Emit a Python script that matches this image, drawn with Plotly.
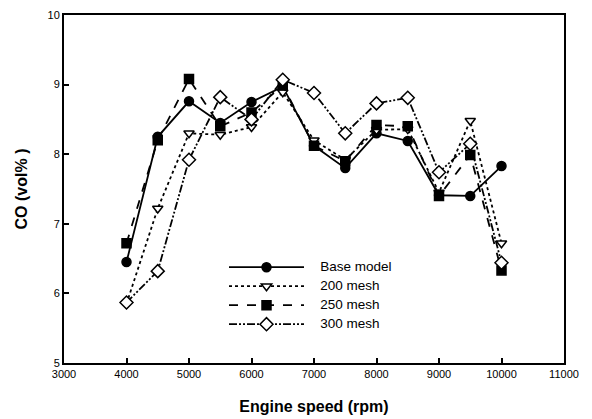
import plotly.graph_objects as go

speed = [4000, 4500, 5000, 5500, 6000, 6500, 7000, 7500, 8000, 8500, 9000, 9500, 10000]
base_model = [6.45, 8.25, 8.76, 8.45, 8.75, 8.97, 8.12, 7.8, 8.3, 8.19, 7.41, 7.4, 7.83]
mesh_200 = [5.85, 7.22, 8.3, 8.28, 8.39, 8.89, 8.2, 7.92, 8.35, 8.36, 7.45, 8.48, 6.72]
mesh_250 = [6.72, 8.2, 9.08, 8.4, 8.6, 8.99, 8.12, 7.9, 8.42, 8.4, 7.4, 7.99, 6.33]
mesh_300 = [5.87, 6.32, 7.92, 8.82, 8.5, 9.07, 8.88, 8.3, 8.73, 8.81, 7.74, 8.15, 6.44]

names = ["Base model", "200 mesh", "250 mesh", "300 mesh"]
x_ticks = [3000, 4000, 5000, 6000, 7000, 8000, 9000, 10000, 11000]
y_ticks = [5, 6, 7, 8, 9, 10]

fig = go.Figure()
series = [
    (base_model, "solid", "circle", "black"),
    (mesh_200, "dot", "triangle-down", "white"),
    (mesh_250, "dash", "square", "black"),
    (mesh_300, "8px,2px,2px,2px,2px,2px", "diamond", "white"),
]
for (vals, dash, sym, fill), name in zip(series, names):
    fig.add_trace(go.Scatter(
        x=speed, y=vals, mode="lines+markers",
        name="&nbsp;&nbsp;&nbsp;&nbsp;<span style='font-size:13.5px'>" + name + "</span>",
        line=dict(color="black", width=1.8, dash=dash),
        marker=dict(symbol=sym, size=9 if sym != "diamond" else 10, color=fill,
                    line=dict(color="black", width=1.5)),
    ))

fig.update_layout(
    width=592, height=419,
    margin=dict(l=64, r=28, t=15, b=56, autoexpand=False),
    paper_bgcolor="white", plot_bgcolor="white",
    font=dict(family="Liberation Sans, Arial, sans-serif", size=11, color="black"),
    legend=dict(x=0.32, y=0.317, xanchor="left", yanchor="top", itemwidth=75,
                bgcolor="rgba(0,0,0,0)", font=dict(size=10, color="black"),
                tracegroupgap=0),
)
fig.update_xaxes(
    range=[3000, 11000], tickvals=x_ticks, ticktext=[str(v) for v in x_ticks],
    tickfont=dict(color="black", size=11), automargin=False,
    showgrid=False, zeroline=False, showline=True, linecolor="black", linewidth=2,
    mirror=True, ticks="inside", ticklen=5, tickwidth=1.5, tickcolor="black",
    title=dict(text="<b>Engine speed (rpm)</b>", font=dict(size=16, color="black"), standoff=22),
)
fig.update_yaxes(
    range=[5, 10], tickvals=y_ticks, ticktext=[str(v) for v in y_ticks],
    tickfont=dict(color="black", size=11), automargin=False,
    showgrid=False, zeroline=False, showline=True, linecolor="black", linewidth=2,
    mirror=True, ticks="inside", ticklen=5, tickwidth=1.5, tickcolor="black",
    title=dict(text="<b>CO (vol% )</b>", font=dict(size=16, color="black"), standoff=16),
)
fig.write_html("out.html")
